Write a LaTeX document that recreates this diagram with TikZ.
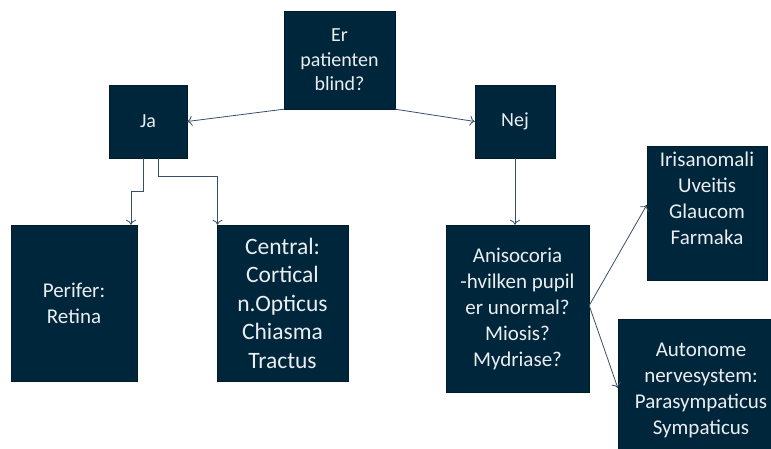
\documentclass[tikz,border=0pt]{standalone}
\usepackage{fontspec}
\setmainfont{Carlito}
\usetikzlibrary{arrows.meta, positioning}
\definecolor{boxblue}{RGB}{0,38,60}
\definecolor{linegray}{RGB}{55,80,105}

\begin{document}
\begin{tikzpicture}[x=1pt,y=-1pt,
	box/.style={fill=boxblue, draw=boxblue!70!black, text=white!92!boxblue, align=center, inner sep=0pt, font=\fontsize{21}{26}\selectfont},
	link/.style={->, >={To[length=5pt,width=10pt]}, draw=linegray, line width=0.8pt}]
				\clip (0,0) rectangle (771,448);
				
				\node(blind)  [box, minimum width=111, minimum height=98, font=\fontsize{20}{24.5}\selectfont] at (339.5,60)  {Er\\patienten\\blind?};
				
				\node(ja)  [box, minimum width=78, minimum height=73, font=\fontsize{20}{24.5}\selectfont] at (148,121.5)  {Ja};
				\node(nej)  [box, minimum width=80, minimum height=73, font=\fontsize{20}{24.5}\selectfont] at (515,121.5)  {Nej};
				
				\node(perifer)  [box, minimum width=126, minimum height=156] at (74,303)  {Perifer:\\Retina};
				\node(central)  [box, minimum width=131, minimum height=156, font=\fontsize{23.5}{28.5}\selectfont] at (282.5,303)  {Central:\\Cortical\\n.Opticus\\Chiasma\\Tractus};
				
				\node(aniso)  [box, minimum width=143, minimum height=167] at (517.5,308.5)  {Anisocoria\\-hvilken pupil\\er unormal?\\Miosis?\\Mydriase?};
				\node(iris)  [box, minimum width=120, minimum height=134, text depth=29pt] at (707,213)  {Irisanomali\\Uveitis\\Glaucom\\Farmaka};
				\node(autonom)  [box, minimum width=166, minimum height=142] at (701,390)  {Autonome\\nervesystem:\\Parasympaticus\\Sympaticus};
				
				\draw[link] (blind.south west) -- (ja.east);
				\draw[link] (blind.south east) -- (nej.west);
				
				\draw[link] ([xshift=-5pt]ja.south) -- ++(0,33) -| ([xshift=57pt]perifer.north);
				\draw[link] ([xshift=10pt]ja.south) -- ++(0,18) -| ([xshift=-65pt]central.north);
				
				\draw[link] (nej.south) -- (nej.south |- aniso.north);
				\draw[link] ([yshift=3pt]aniso.east) -- ([yshift=8pt]iris.west);
				\draw[link] ([yshift=3pt]aniso.east) -- ([yshift=2pt]autonom.west);
				
			\end{tikzpicture}
\end{document}
